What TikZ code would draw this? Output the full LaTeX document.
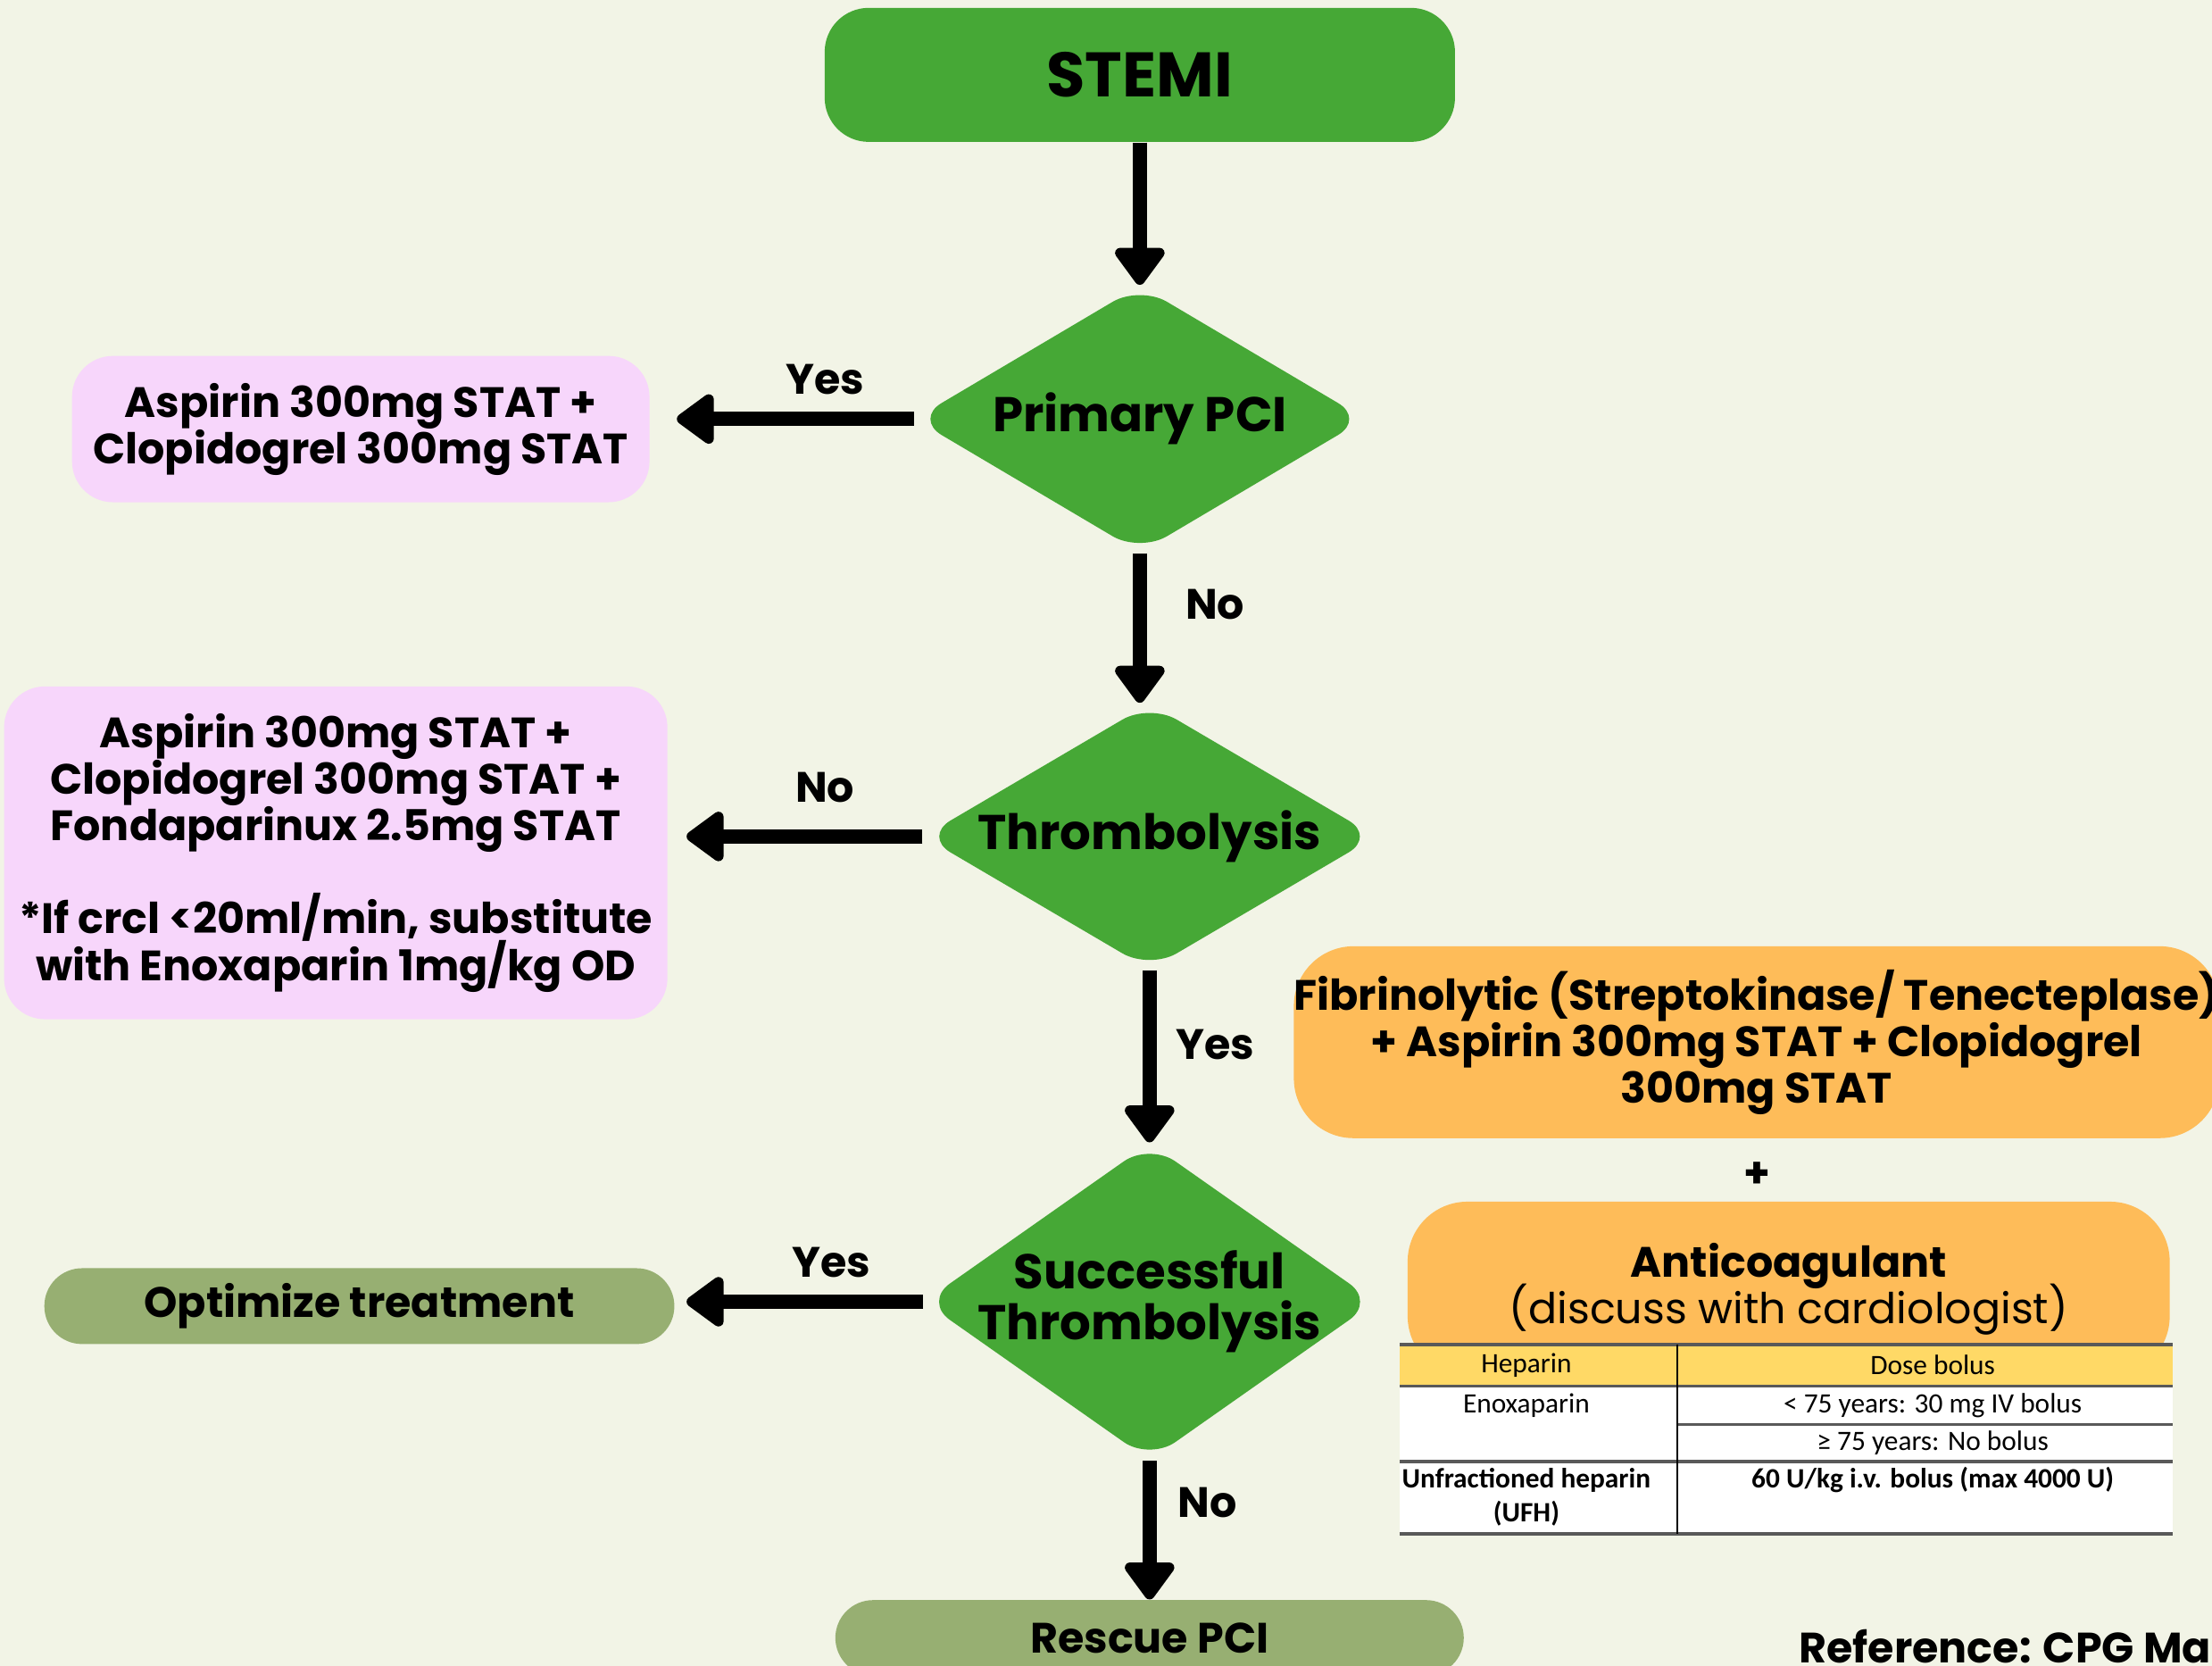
\documentclass[tikz,border=0pt]{standalone}
\usepackage{fontspec}
\setmainfont{Poppins}
\newfontfamily\tabfont{Carlito}
\usetikzlibrary{positioning,shapes.geometric,arrows.meta}

\definecolor{bgcream}{HTML}{F2F4E6}
\definecolor{stepgreen}{HTML}{46A836}
\definecolor{drugpink}{HTML}{F7D6FB}
\definecolor{endolive}{HTML}{97AF72}
\definecolor{lysisorange}{HTML}{FEBC59}
\definecolor{headyellow}{HTML}{FFD966}

\tikzset{
  drugbox/.style={rectangle, rounded corners=13pt, align=center, inner sep=0pt,
    font=\fontsize{13.5}{14.8}\selectfont\bfseries, execute at begin node={\lineskiplimit=-20pt}},
  decision/.style={diamond, fill=stepgreen, rounded corners=10pt, align=center, inner sep=0pt,
    font=\fontsize{15.5}{16.2}\selectfont\bfseries, execute at begin node={\lineskiplimit=-20pt}},
  flow/.style={-{Triangle[width=18pt,length=13pt,round]}, line width=4.5pt},
  answer/.style={font=\fontsize{13.5}{15}\selectfont\bfseries},
  tabtext/.style={font=\tabfont\fontsize{8.9}{10.8}\selectfont, align=center, inner sep=0pt},
  tabrule/.style={gray!70!black, line width=0.9pt}
}

\begin{document}
\begin{tikzpicture}
\useasboundingbox (0,0) rectangle (703.3pt,-529.6pt);
\fill[bgcream] (0,0) rectangle (703.3pt,-529.6pt);

% main column
\node[drugbox, fill=stepgreen, rounded corners=14pt, minimum width=200.4pt, minimum height=42.6pt,
  font=\fontsize{20}{22}\selectfont\bfseries] (stemi) at (362.4pt,-23.8pt) {STEMI};
\node[decision, aspect=1.7, minimum width=143.4pt, minimum height=84.9pt, below=45.25pt of stemi] (pci) {Primary PCI};
\node[decision, aspect=1.7, minimum width=144pt, minimum height=84.6pt, below=47.55pt of pci, xshift=3.1pt] (thromb) {Thrombolysis};
\node[decision, aspect=1.42, inner xsep=-9pt, minimum width=143.6pt, minimum height=100.9pt, below=54.75pt of thromb] (succ) {Successful\\Thrombolysis};
\node[drugbox, fill=endolive, rounded corners=12pt, minimum width=199.8pt, minimum height=24pt, below=44pt of succ] (rescue) {Rescue PCI};

% left column
\node[drugbox, fill=drugpink, minimum width=183.6pt, minimum height=46.5pt, left=83.8pt of pci, yshift=-3.2pt] (aspclop)
  {Aspirin 300mg STAT +\\Clopidogrel 300mg STAT};
\node[drugbox, fill=drugpink, minimum width=210.9pt, minimum height=105.8pt, left=80.9pt of thromb, yshift=-5.2pt] (fonda)
  {Aspirin 300mg STAT +\\Clopidogrel 300mg STAT +\\Fondaparinux 2.5mg STAT\\[14.8pt]*If crcl <20ml/min, substitute\\with Enoxaparin 1mg/kg OD};
\node[drugbox, fill=endolive, rounded corners=12pt, minimum width=200.3pt, minimum height=24.1pt, left=78.9pt of succ, yshift=-1.4pt] (optim)
  {Optimize treatment};

% right column
\node[drugbox, fill=lysisorange, rounded corners=19pt, minimum width=291.8pt, minimum height=61pt] (fibrin) at (558.5pt,-331.3pt)
  {Fibrinolytic (Streptokinase/ Tenecteplase)\\+ Aspirin 300mg STAT + Clopidogrel\\300mg STAT};
\node[answer] (plus) at (558.8pt,-373.5pt) {+};
\node[drugbox, fill=lysisorange, rounded corners=19pt, minimum width=242.3pt, minimum height=55.4pt] (anticoag) at (568.7pt,-409.7pt)
  {Anticoagulant\\{\mdseries (discuss with cardiologist)}};

% heparin table
\fill[white] (445pt,-427.4pt) rectangle (690.8pt,-487.6pt);
\fill[headyellow] (445pt,-427.4pt) rectangle (690.8pt,-440.7pt);
\draw[tabrule] (445pt,-427.4pt) -- (690.8pt,-427.4pt);
\draw[tabrule] (445pt,-440.7pt) -- (690.8pt,-440.7pt);
\draw[tabrule] (533.3pt,-452.9pt) -- (690.8pt,-452.9pt);
\draw[tabrule] (445pt,-464.6pt) -- (690.8pt,-464.6pt);
\draw[tabrule] (445pt,-487.6pt) -- (690.8pt,-487.6pt);
\draw[black, line width=0.7pt] (533.3pt,-427.4pt) -- (533.3pt,-487.6pt);
\node[tabtext] (hephead) at (485.3pt,-434pt) {Heparin};
\node[tabtext] (dosehead) at (614.5pt,-434pt) {Dose bolus};
\node[tabtext] (enox) at (485.3pt,-446.8pt) {Enoxaparin};
\node[tabtext] (enoxyoung) at (614.5pt,-446.8pt) {< 75 years: 30 mg IV bolus};
\node[tabtext] (enoxold) at (614.5pt,-458.7pt) {≥ 75 years: No bolus};
\node[tabtext, font=\tabfont\bfseries\fontsize{8.9}{10.8}\selectfont] (ufh) at (485.3pt,-475.9pt) {Unfractioned heparin\\(UFH)};
\node[tabtext, font=\tabfont\bfseries\fontsize{8.9}{10.8}\selectfont] (ufhdose) at (614.5pt,-470.5pt) {60 U/kg i.v. bolus (max 4000 U)};

\node[answer, anchor=west] (source) at (568.5pt,-523.3pt) {Reference: CPG Ma};

% connectors
\draw[flow] (stemi) -- (pci);
\draw[flow, shorten >=8.5pt] (pci.west) -- node[answer, pos=0.337, yshift=12.5pt] {Yes} (pci.west -| aspclop.east);
\draw[flow] (pci.south) -- node[answer, pos=0.344, xshift=23.9pt] {No} (pci.south |- thromb.north);
\draw[flow, shorten >=5.9pt] (thromb.west) -- node[answer, pos=0.383, yshift=15.5pt] {No} (thromb.west -| fonda.east);
\draw[flow] (thromb) -- node[answer, pos=0.43, xshift=20.8pt] {Yes} (succ);
\draw[flow, shorten >=3.7pt] (succ.west) -- node[answer, pos=0.37, yshift=12.4pt] {Yes} (succ.west -| optim.east);
\draw[flow] (succ) -- node[answer, pos=0.3, xshift=18.5pt] {No} (rescue);
\end{tikzpicture}
\end{document}
